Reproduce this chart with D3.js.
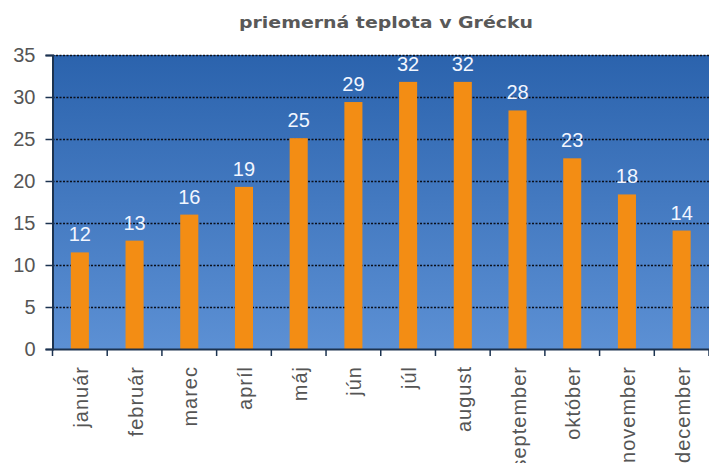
<!DOCTYPE html>
<html><head><meta charset="utf-8">
<script src="https://cdn.jsdelivr.net/npm/d3@7"></script>
<style>body{margin:0;background:#fff}svg{display:block}</style>
</head><body>
<svg id="c" width="709" height="463"></svg>
<script>
const months = ["január","február","marec","apríl","máj","jún","júl","august","september","október","november","december"];
const temps = [11.5, 12.9, 16.0, 19.3, 25.1, 29.4, 31.8, 31.8, 28.4, 22.7, 18.4, 14.1];
const yTicks = [0,5,10,15,20,25,30,35];
const title = "priemerná teplota v Grécku";

const svg = d3.select("#c");
const m = {l:52.5, r:709, t:55, b:349};
const x = d3.scaleBand().domain(months).range([m.l, m.r]).paddingInner(0).paddingOuter(0);
const y = d3.scaleLinear().domain([0,35]).range([m.b, m.t]);

const defs = svg.append("defs");
const g = defs.append("linearGradient").attr("id","bg").attr("x1",0).attr("y1",0).attr("x2",0).attr("y2",1);
g.append("stop").attr("offset","0%").attr("stop-color","#2b63ad");
g.append("stop").attr("offset","100%").attr("stop-color","#5c90d4");

svg.append("rect").attr("x",m.l).attr("y",m.t).attr("width",m.r-m.l).attr("height",m.b-m.t).attr("fill","url(#bg)");

// gridlines
svg.append("g").selectAll("line").data(yTicks.filter(d=>d>0)).join("line")
  .attr("x1",m.l).attr("x2",m.r).attr("y1",d=>Math.round(y(d))+0.5).attr("y2",d=>Math.round(y(d))+0.5)
  .attr("stroke","#0a0f1a").attr("stroke-width",1.5).attr("stroke-dasharray","2,1.5");

// bars
const bw = x.bandwidth()*0.33;
svg.append("g").selectAll("rect").data(temps).join("rect")
  .attr("x",(d,i)=>x(months[i])+x.bandwidth()/2-bw/2)
  .attr("y",d=>y(d)).attr("width",bw).attr("height",d=>y(0)-y(d))
  .attr("fill","#f38d14");

// data labels
svg.append("g").selectAll("text").data(temps).join("text")
  .attr("x",(d,i)=>x(months[i])+x.bandwidth()/2)
  .attr("y",d=>y(d)-11)
  .attr("text-anchor","middle")
  .attr("font-family","Liberation Sans, Arial, sans-serif").attr("font-size",20)
  .attr("fill","#f2f6ff")
  .text(d=>Math.round(d));

// y axis
const ya = svg.append("g").attr("transform",`translate(${m.l},0)`)
  .call(d3.axisLeft(y).tickValues(yTicks).tickSize(7).tickPadding(10));
ya.select(".domain").attr("stroke","#1c3350").attr("stroke-width",2);
ya.selectAll(".tick line").attr("stroke","#1c3350").attr("stroke-width",1.5);
ya.selectAll("text").attr("font-family","Liberation Sans, Arial, sans-serif").attr("font-size",20).attr("fill","#555");

// x axis
const xa = svg.append("g").attr("transform",`translate(0,${m.b})`)
  .call(d3.axisBottom(x).tickSize(0).tickFormat(""));
xa.select(".domain").attr("stroke","#1c3350").attr("stroke-width",2);
const bounds = months.map(d=>x(d)).concat([m.r]);
xa.append("g").selectAll("line").data(bounds).join("line")
  .attr("x1",d=>d).attr("x2",d=>d).attr("y1",0).attr("y2",7)
  .attr("stroke","#1c3350").attr("stroke-width",1.5);

svg.append("g").selectAll("text").data(months).join("text")
  .attr("transform",d=>`translate(${x(d)+x.bandwidth()/2+8},366) rotate(-90)`)
  .attr("text-anchor","end")
  .attr("font-family","Liberation Sans, Arial, sans-serif").attr("font-size",20)
  .attr("letter-spacing",1)
  .attr("fill","#555")
  .text(d=>d);

// title
svg.append("text").attr("x",386).attr("y",28).attr("text-anchor","middle")
  .attr("font-family","DejaVu Sans, Verdana, sans-serif").attr("font-weight","bold").attr("font-size",16)
  .attr("textLength",294).attr("lengthAdjust","spacingAndGlyphs")
  .attr("fill","#595959").text(title);
</script>
</body></html>
